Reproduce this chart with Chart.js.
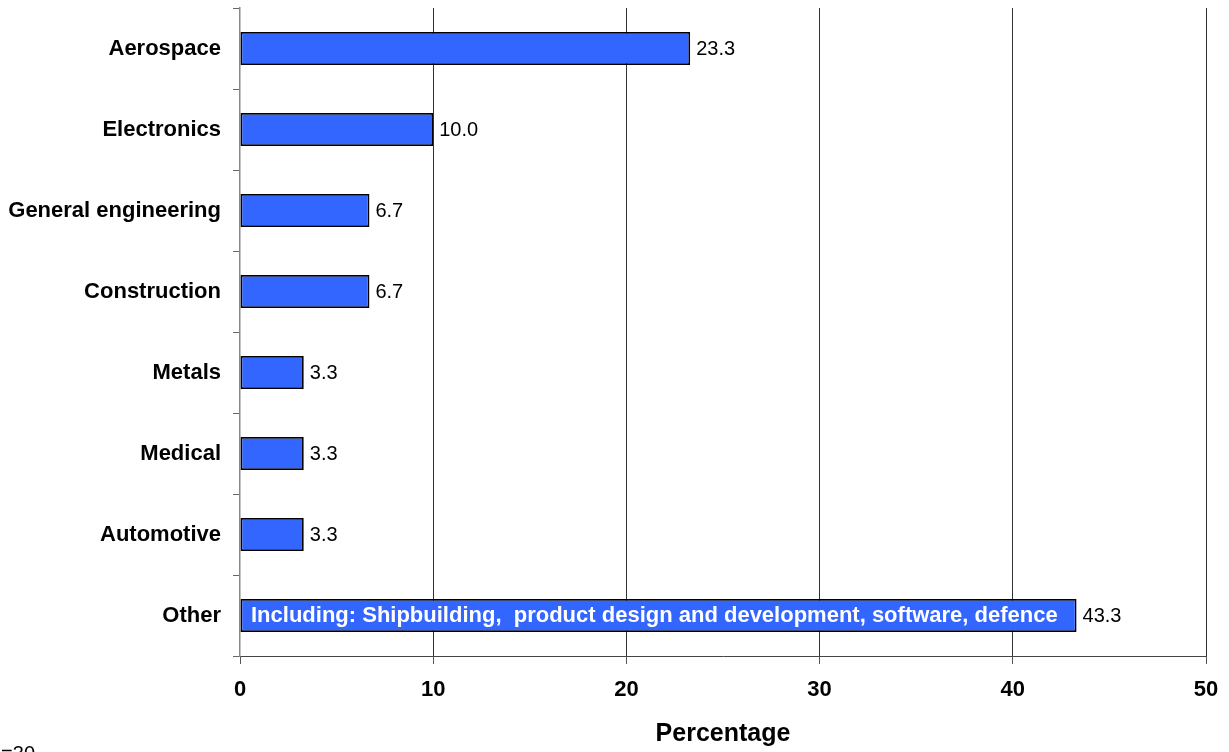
<!DOCTYPE html>
<html>
<head>
<meta charset="utf-8">
<script src="https://cdn.jsdelivr.net/npm/chart.js@4/dist/chart.umd.min.js"></script>
<style>
html,body{margin:0;padding:0;background:#fff;}
#wrap{width:1229px;height:752px;position:relative;}
</style>
</head>
<body>
<div id="wrap"><canvas id="c" width="1229" height="752"></canvas></div>
<script>
const categories = ["Aerospace","Electronics","General engineering","Construction","Metals","Medical","Automotive","Other"];
const percentages = [23.3,10.0,6.7,6.7,3.3,3.3,3.3,43.3];
const otherNote = "Including: Shipbuilding,  product design and development, software, defence";
const xTitle = "Percentage";
const sampleNote = "n=30";

const FONT = "'Liberation Sans', Arial, sans-serif";

const labelPlugin = {
  id: 'labels',
  afterDatasetsDraw(chart) {
    const ctx = chart.ctx;
    const meta = chart.getDatasetMeta(0);
    ctx.save();
    ctx.textBaseline = 'middle';
    meta.data.forEach((bar, i) => {
      ctx.font = "20px " + FONT;
      ctx.fillStyle = '#000';
      ctx.textAlign = 'left';
      ctx.fillText(percentages[i].toFixed(1), bar.x + 6, bar.y + 1);
      if (categories[i] === 'Other') {
        ctx.font = "bold 22px " + FONT;
        ctx.fillStyle = '#fff';
        ctx.fillText(otherNote, chart.scales.x.getPixelForValue(0) + 11, bar.y);
      }
    });
    ctx.font = "20px " + FONT;
    ctx.fillStyle = '#000';
    ctx.textAlign = 'right';
    ctx.textBaseline = 'alphabetic';
    ctx.fillText(sampleNote, 35, 760);
    ctx.restore();
  }
};

new Chart(document.getElementById('c'), {
  type: 'bar',
  data: {
    labels: categories,
    datasets: [{
      data: percentages,
      backgroundColor: '#3366FF',
      borderColor: '#000',
      borderWidth: 1.8,
      borderSkipped: false,
      barPercentage: 0.41,
      categoryPercentage: 1.0
    }]
  },
  options: {
    indexAxis: 'y',
    responsive: false,
    animation: false,
    devicePixelRatio: 1,
    layout: { padding: { top: 8, right: 23, bottom: 0, left: 0 } },
    plugins: { legend: { display: false }, tooltip: { enabled: false } },
    scales: {
      x: {
        min: 0, max: 50,
        ticks: { stepSize: 10, color: '#000', font: { family: FONT, size: 22, weight: 'bold' }, padding: 13, maxRotation: 0 },
        grid: {
          color: (c) => (c.tick && c.tick.value === 0) ? 'rgba(0,0,0,0)' : '#333',
          lineWidth: 1,
          tickColor: '#555',
          tickLength: 8
        },
        border: { color: '#444', width: 1 },
        title: { display: true, text: xTitle, color: '#000', font: { family: FONT, size: 25, weight: 'bold' }, padding: { top: 0, bottom: 3 } },
        afterFit(s) { s.height = 96; s.paddingLeft = 0; s.paddingRight = 0; }
      },
      y: {
        ticks: { color: '#000', font: { family: FONT, size: 22, weight: 'bold' }, padding: 12 },
        grid: { offset: true, drawOnChartArea: false, tickLength: 7, color: '#666', tickColor: '#666' },
        border: { color: '#888', width: 1.5 },
        afterFit(s) { s.width = 240; s.paddingTop = 0; s.paddingBottom = 0; }
      }
    }
  },
  plugins: [labelPlugin]
});
</script>
</body>
</html>
